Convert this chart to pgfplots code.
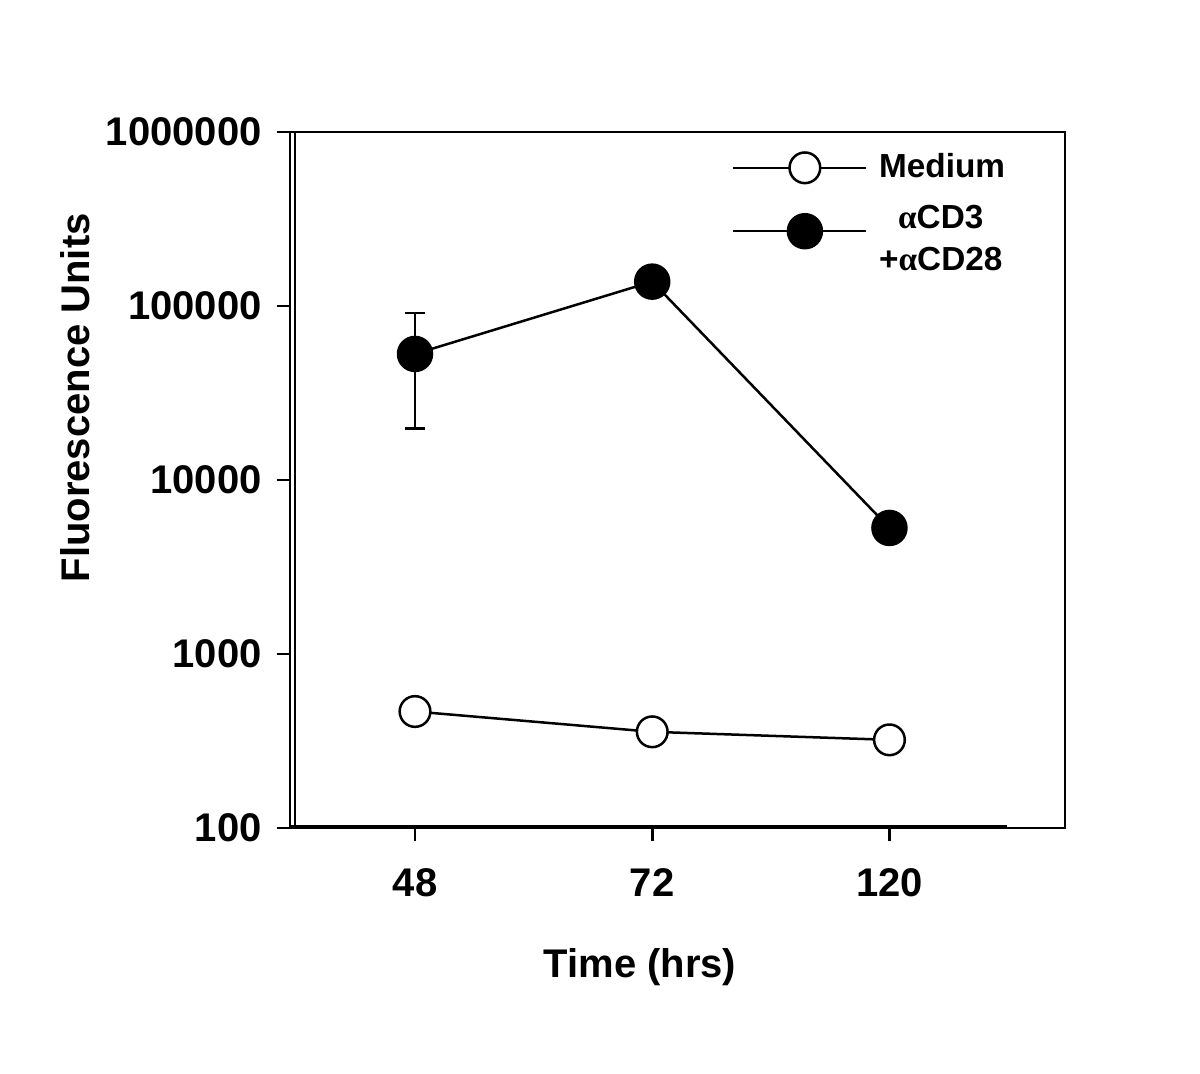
\documentclass[border=0pt]{standalone}
\usepackage{pgfplots}
\pgfplotsset{compat=1.18}
\usetikzlibrary{calc}
\usepackage{fontspec}
\setmainfont{Liberation Sans}
\newfontfamily\grk{Liberation Serif}
\newcommand{\al}{{\grk α}}

\begin{document}
\begin{tikzpicture}
  \begin{axis}[
    name=main,
    scale only axis,
    width=232.5pt, height=208.8pt,
    xmin=-0.527, xmax=2.74,
    ymode=log, ymin=100, ymax=1000000,
    xtick={0,1,2}, xticklabels={48,72,120},
    ytick={100,1000,10000,100000,1000000},
    yticklabels={100,1000,10000,100000,1000000},
    yminorticks=false,
    tick pos=left, tick align=outside,
    major tick length=4pt,
    every tick/.style={black, line width=0.8pt},
    axis line style={line width=0.8pt},
    /pgf/number format/assume math mode=true,
    tick label style={font=\bfseries\fontsize{12}{14}\selectfont},
    xticklabel style={yshift=-4.5pt},
    yticklabel style={xshift=-1pt},
    xlabel={Time (hrs)},
    ylabel={Fluorescence Units},
    label style={font=\bfseries\fontsize{12}{14}\selectfont},
    xlabel style={at={(rel axis cs:0.4516,-0.2)}, anchor=center},
    ylabel style={at={(rel axis cs:-0.277,0.618)}, anchor=center},
    legend style={at={(rel axis cs:0.569,0.98)}, anchor=north west,
      draw=none, fill=none, inner sep=0pt, row sep=1.5pt,
      font=\bfseries\fontsize{10}{12}\selectfont,
      nodes={inner xsep=3.5pt}},
    legend cell align=left,
    legend image code/.code={%
      \draw[mark repeat=2,mark phase=2,#1]
        plot coordinates {(0pt,0pt) (21.6pt,0pt) (40pt,0pt)};},
  ]
    % medium
    \addplot[black, line width=0.75pt, mark=*, mark size=4.6pt,
      mark options={fill=white, line width=0.75pt}]
      coordinates {(0,467) (1,357) (2,321)};
    \addlegendentry{Medium}
    % anti-CD3 + anti-CD28
    \addplot[black, line width=0.75pt, mark=*, mark size=5.1pt,
      mark options={fill=black},
      error bars/.cd, y dir=both, y explicit,
      error mark options={rotate=90, mark size=3pt, line width=0.8pt},
      error bar style={line width=0.8pt}]
      coordinates {
        (0,53000) += (0,38000) -= (0,33200)
        (1,138000) += (0,0) -= (0,0)
        (2,5300) += (0,0) -= (0,0)
      };
    \addlegendentry{\raisebox{2pt}{\begin{tabular}{@{}c@{}}\al CD3\\[0.6pt]+\al CD28\end{tabular}}}
    % extra lines of the frame
    \draw[line width=0.7pt] ([xshift=1.6pt]rel axis cs:0,0) -- ([xshift=1.6pt]rel axis cs:0,1);
    \draw[line width=1.6pt] (rel axis cs:0,0) -- (rel axis cs:0.925,0);
  \end{axis}
  \path ($(main.south west)+(-87pt,-73.8pt)$) rectangle ($(main.north east)+(40.5pt,39.6pt)$);
\end{tikzpicture}
\end{document}
